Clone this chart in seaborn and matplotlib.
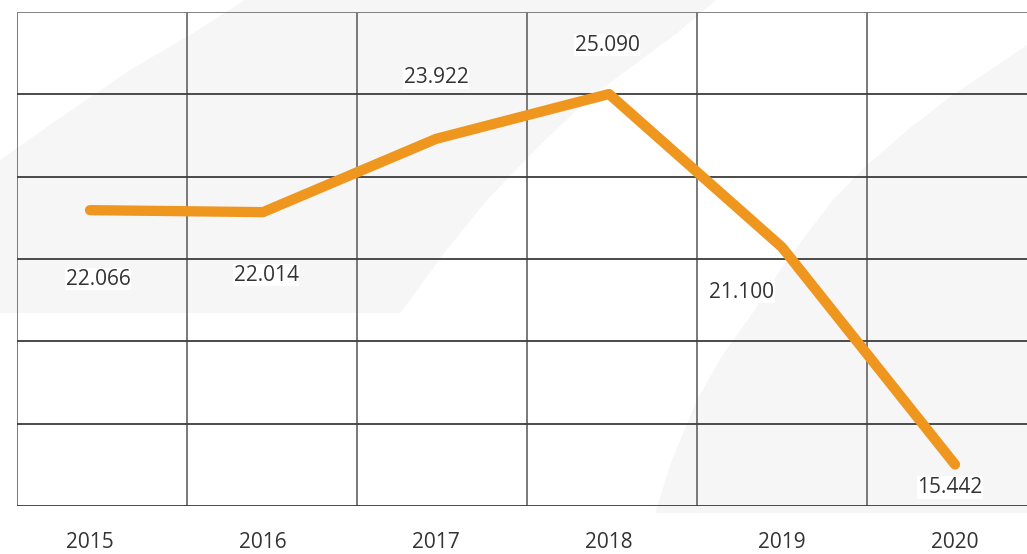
import matplotlib
matplotlib.use("Agg")
import matplotlib.pyplot as plt
from matplotlib.patches import Polygon
import seaborn as sns
import pandas as pd
import numpy as np

# ---- data ----
years = ["2015", "2016", "2017", "2018", "2019", "2020"]
values = [22.066, 22.014, 23.922, 25.090, 21.100, 15.442]
value_labels = ["22.066", "22.014", "23.922", "25.090", "21.100", "15.442"]

# label offsets in pixels (dx, dy; dy positive = downward)
label_offsets = [(8, 69), (3, 63), (0, -61), (-2, -49), (-40, 45), (-5, 23)]

W, H = 1027, 554
sns.set_theme(style="white")
plt.rcParams['font.family'] = ['Open Sans', 'DejaVu Sans']

fig = plt.figure(figsize=(W / 100, H / 100), dpi=100)
fig.patch.set_facecolor("white")

# ---- decorative background swooshes (pixel coords) ----
bg = fig.add_axes([0, 0, 1, 1])
bg.set_xlim(0, W)
bg.set_ylim(H, 0)
bg.axis("off")
sw_color = "#f6f6f6"
sw1 = [(0, 160), (60, 118), (130, 70), (190, 35), (245, 0), (716, 0),
       (677, 33), (630, 68), (587, 100), (535, 150), (487, 200), (445, 252),
       (410, 300), (400, 313), (0, 313)]
sw2 = [(655, 513), (672, 460), (697, 400), (722, 356), (750, 317), (787, 260),
       (833, 200), (867, 165), (910, 128), (950, 97), (990, 70), (1027, 45),
       (1027, 513)]
for pts in (sw1, sw2):
    bg.add_patch(Polygon(pts, closed=True, facecolor=sw_color, edgecolor="none"))

# ---- plot area ----
left, right, top, bottom = 17, 1037, 12, 506
pos = [left / W, (H - bottom) / H, (right - left) / W, (bottom - top) / H]

# grid axes (decorative table grid: 6 x 6 cells)
gx = fig.add_axes(pos)
gx.patch.set_alpha(0)
gx.set_xlim(0, 6)
gx.set_ylim(0, 6)
for s in gx.spines.values():
    s.set_visible(False)
gx.set_xticks([])
gx.set_yticks([])
for i in range(0, 6):
    gx.axvline(i, color="#6e6e6e", lw=1.3, zorder=1)
for j in range(0, 7):
    gx.axhline(j, color="#3c3c3c" if j < 6 else "#777777", lw=1.3, zorder=1)

# data axes
ax = fig.add_axes(pos)
ax.patch.set_alpha(0)
x = np.arange(len(years))
df = pd.DataFrame({"x": x, "value": values})
sns.lineplot(data=df, x="x", y="value", ax=ax, color="#ee961e", linewidth=7.4,
             solid_capstyle="round", solid_joinstyle="round", zorder=3)

ax.set_xlim(-0.422, 5.474)
ax.set_ylim(14.361, 27.226)
for s in ax.spines.values():
    s.set_visible(False)
ax.set_xticks(x)
ax.set_xticklabels(years, fontsize=15, color="#333333")
ax.tick_params(axis="x", length=0, pad=19)
ax.set_yticks([])
ax.set_xlabel("")
ax.set_ylabel("")

for xi, v, lab, (dx, dy) in zip(x, values, value_labels, label_offsets):
    ax.annotate(lab, (xi, v), xytext=(dx, -dy), textcoords="offset pixels",
                ha="center", va="center", fontsize=15, color="#333333",
                bbox=dict(facecolor="white", edgecolor="none", pad=0.5),
                zorder=4)

fig.savefig("out.png", dpi=100, facecolor="white")
